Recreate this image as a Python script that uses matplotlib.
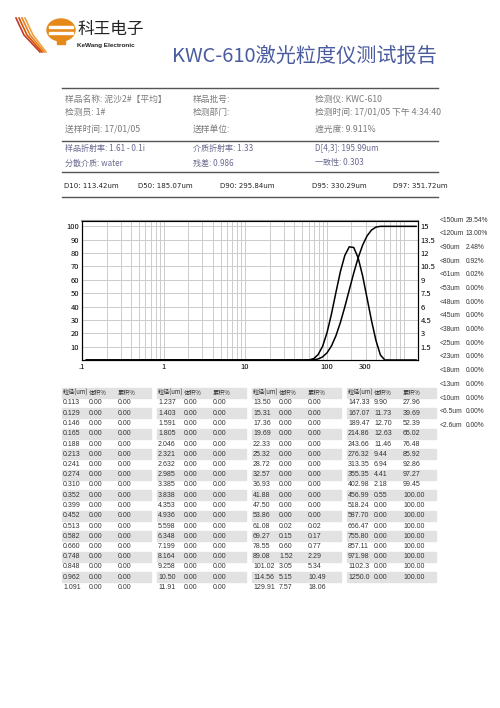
import matplotlib
matplotlib.use("Agg")
import matplotlib.pyplot as plt
import numpy as np
from matplotlib.patches import Rectangle, Ellipse

plt.rcParams['font.family'] = ['Noto Sans CJK SC', 'DejaVu Sans']
NUM = ["Liberation Sans", "DejaVu Sans"]

W, H = 500, 708

# particle size table (um), volume %, cumulative %
SIZES = ["0.113", "0.129", "0.146", "0.165", "0.188", "0.213", "0.241", "0.274", "0.310", "0.352",
         "0.399", "0.452", "0.513", "0.582", "0.660", "0.748", "0.848", "0.962", "1.091",
         "1.237", "1.403", "1.591", "1.805", "2.046", "2.321", "2.632", "2.985", "3.385", "3.838",
         "4.353", "4.936", "5.598", "6.348", "7.199", "8.164", "9.258", "10.50", "11.91",
         "13.50", "15.31", "17.36", "19.69", "22.33", "25.32", "28.72", "32.57", "36.93", "41.88",
         "47.50", "53.86", "61.08", "69.27", "78.55", "89.08", "101.02", "114.56", "129.91",
         "147.33", "167.07", "189.47", "214.86", "243.66", "276.32", "313.35", "355.35", "402.98",
         "456.99", "518.24", "587.70", "666.47", "755.80", "857.11", "971.98", "1102.3", "1250.0"]
VOL = [0.0] * 50 + [0.02, 0.15, 0.60, 1.52, 3.05, 5.15, 7.57,
                    9.90, 11.73, 12.70, 12.63, 11.46, 9.44, 6.94, 4.41, 2.18, 0.55,
                    0, 0, 0, 0, 0, 0, 0, 0]
CUM = [0.0] * 50 + [0.02, 0.17, 0.77, 2.29, 5.34, 10.49, 18.06,
                    27.96, 39.69, 52.39, 65.02, 76.48, 85.92, 92.86, 97.27, 99.45, 100.0,
                    100, 100, 100, 100, 100, 100, 100, 100]

SIDE_LABELS = ["<150um", "<120um", "<90um", "<80um", "<61um", "<53um", "<48um", "<45um",
               "<38um", "<25um", "<23um", "<18um", "<13um", "<10um", "<6.5um", "<2.6um"]
SIDE_VALUES = ["29.54%", "13.00%", "2.48%", "0.92%", "0.02%"] + ["0.00%"] * 11

INFO = [
    [("样品名称: 泥沙2#【平均】", 65, 99), ("样品批号:", 193, 99), ("检测仪: KWC-610", 315, 99)],
    [("检测员: 1#", 65, 112), ("检测部门:", 193, 112), ("检测时间: 17/01/05 下午 4:34:40", 315, 112)],
    [("送样时间: 17/01/05", 65, 129), ("送样单位:", 193, 129), ("遮光度: 9.911%", 315, 129)],
]
INFO2 = [
    [("样品折射率: 1.61 - 0.1i", 65, 148), ("介质折射率: 1.33", 193, 148), ("D[4,3]: 195.99um", 315, 148)],
    [("分散介质: water", 65, 163), ("残差: 0.986", 193, 163), ("一致性: 0.303", 315, 163)],
]
DVALS = [("D10: 113.42um", 64), ("D50: 185.07um", 138), ("D90: 295.84um", 220),
         ("D95: 330.29um", 312), ("D97: 351.72um", 393)]

fig = plt.figure(figsize=(5, 7.08), dpi=100)


def fx(x):
    return x / W


def fy(y):
    return 1 - y / H


def txt(x, y, s, **kw):
    fig.text(fx(x), fy(y), s, va="center", **kw)


def hline(y, x0=62, x1=438, lw=1.0, c="#555555"):
    fig.add_artist(plt.Line2D([fx(x0), fx(x1)], [fy(y), fy(y)], lw=lw, color=c))


# logo
fig.add_artist(Ellipse((fx(61), fy(30)), fx(28), 22 / H, color="#e58a1a"))
fig.add_artist(Rectangle((fx(49), fy(28)), fx(24), 2 / H, color="white"))
fig.add_artist(Rectangle((fx(49), fy(34)), fx(24), 2 / H, color="white"))
fig.add_artist(Rectangle((fx(57), fy(44)), fx(8), 8 / H, color="#e58a1a"))
for i, c in enumerate(["#c0392b", "#d35400", "#e67e22", "#f0a040"]):
    fig.add_artist(plt.Line2D([fx(16 + i * 3), fx(24 + i * 3), fx(40 + i * 2)],
                              [fy(18), fy(35), fy(52)], lw=1.2, color=c))
txt(78, 29, "科王电子", fontsize=12, color="#222222")
txt(77, 46, "KeWang Electronic", fontsize=4.6, fontweight="bold", color="#222222", family=NUM)

# title
txt(172, 56, "KWC-610激光粒度仪测试报告", fontsize=14.5, color="#4a5c9e")

hline(88)
for row in INFO:
    for s, x, y in row:
        txt(x, y, s, fontsize=6.3, color="#7a7a7a")
hline(141)
for row in INFO2:
    for s, x, y in row:
        txt(x, y, s, fontsize=5.8, color="#6a6a90")
hline(172)
for s, x in DVALS:
    txt(x, 186, s, fontsize=5, color="#222222", family="DejaVu Sans")
hline(197)

# chart
ax = fig.add_axes([fx(82), fy(360), fx(418 - 82), (360 - 221) / H])
ax.set_xscale("log")
ax.set_xlim(0.1, 1320)
ax.set_ylim(0, 104)
x = np.array([float(s) for s in SIZES])
ax.plot(x, CUM, color="black", lw=1.1)
ax.plot(x, np.array(VOL) / 0.15, color="black", lw=1.1)
ax.plot([0.5, 5], [0.3, 0.3], color="black", lw=1.8)
ax.grid(True, which="both", axis="x", color="#cccccc", lw=0.7)
ax.grid(True, which="major", axis="y", color="#cccccc", lw=0.7)
ax.set_yticks(range(10, 101, 10))
ax.set_xticks([0.1, 1, 10, 100, 300])
ax.set_xticklabels([".1", "1", "10", "100", "300"])
ax.tick_params(labelsize=5.5, length=0, pad=2)
ax.tick_params(axis="x", which="minor", length=0)
ax.spines["top"].set_color("#999999")
ax.spines["top"].set_linewidth(1.5)
ax2 = ax.twinx()
ax2.set_ylim(0, 104 * 0.15)
ax2.set_yticks(np.arange(1.5, 15.1, 1.5))
ax2.set_yticklabels(["1.5", "3", "4.5", "6", "7.5", "9", "10.5", "12", "13.5", "15"])
ax2.tick_params(labelsize=5.5, length=0, pad=2)

for i, (lab, val) in enumerate(zip(SIDE_LABELS, SIDE_VALUES)):
    txt(440, 220 + i * 13.7, lab, fontsize=4.8, color="#333333", family=NUM)
    txt(466, 220 + i * 13.7, val, fontsize=4.8, color="#333333", family=NUM)

# table
GX = [63, 158, 253, 348]
ROWS = 19
for g, gx in enumerate(GX):
    y = 393
    fig.add_artist(Rectangle((fx(gx - 1), fy(y + 5)), fx(89), 10 / H, color="#e2e2e2"))
    txt(gx, y, "粒径(um)", fontsize=4.4, color="#333333")
    txt(gx + 26, y, "体积%", fontsize=4.4, color="#333333")
    txt(gx + 55, y, "累积%", fontsize=4.4, color="#333333")
    for r in range(ROWS):
        k = g * ROWS + r
        if k >= len(SIZES):
            break
        y = 403 + r * 10.25
        if r % 2 == 1:
            fig.add_artist(Rectangle((fx(gx - 1), fy(y + 5)), fx(89), 10 / H, color="#e2e2e2"))
        txt(gx, y, SIZES[k], fontsize=5, color="#333333", family=NUM)
        txt(gx + 26, y, f"{VOL[k]:.2f}", fontsize=5, color="#333333", family=NUM)
        txt(gx + 55, y, f"{CUM[k]:.2f}", fontsize=5, color="#333333", family=NUM)

fig.savefig("out.png", dpi=100)
